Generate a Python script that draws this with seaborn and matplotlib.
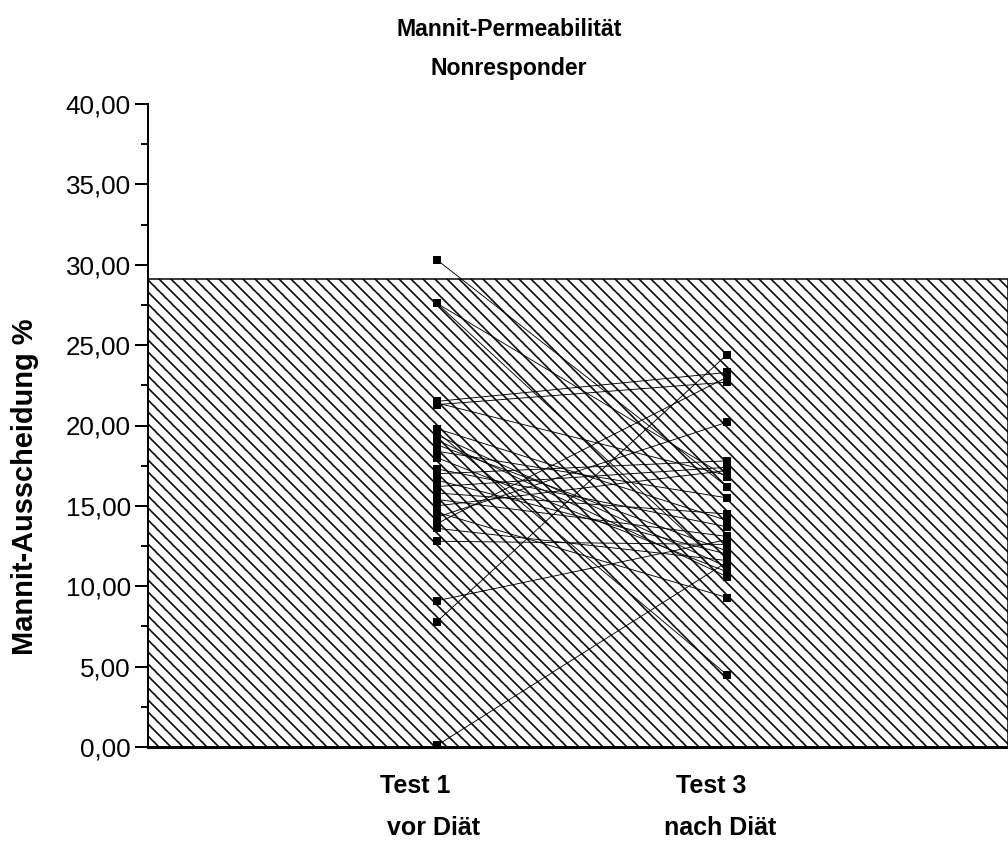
import matplotlib
matplotlib.use("Agg")
import matplotlib.pyplot as plt
import seaborn as sns
import pandas as pd
import numpy as np
from matplotlib.ticker import MultipleLocator, FuncFormatter
import matplotlib.transforms as mtransforms

# ---- data ----
title_lines = ["Mannit-Permeabilität", "Nonresponder"]
y_label = "Mannit-Ausscheidung %"
group_labels = [("Test 1", "vor Diät"), ("Test 3", "nach Diät")]
test1 = [30.3, 27.6, 27.6, 21.5, 21.3, 21.4, 19.8, 19.6, 19.4, 19.1, 18.8, 18.4,
         18.0, 17.3, 17.0, 16.6, 16.2, 15.8, 15.4, 15.0, 14.6, 14.3, 13.9, 13.6,
         12.8, 9.1, 7.8, 0.1]
test3 = [16.2, 16.8, 11.0, 23.3, 22.7, 16.9, 14.1, 4.5, 11.2, 10.6, 12.2, 15.5,
         10.9, 13.7, 17.8, 12.0, 17.4, 14.5, 13.1, 17.2, 9.3, 20.2, 23.0, 11.6,
         12.6, 12.9, 24.4, 11.5]
reference_upper = 29.1  # hatched normal range 0 .. upper

n = len(test1)
df = pd.DataFrame({
    "id": list(range(n)) * 2,
    "pos": [0] * n + [1] * n,
    "value": test1 + test3,
})

sns.set_theme(style="white")
plt.rcParams["font.family"] = ["Liberation Sans", "DejaVu Sans"]
plt.rcParams["hatch.linewidth"] = 1.6
plt.rcParams["hatch.color"] = "black"
plt.rcParams["text.color"] = "black"
plt.rcParams["ytick.color"] = "black"

fig = plt.figure(figsize=(1008 / 72, 843 / 72), dpi=72)
ax = fig.add_axes([148 / 1008, 1 - 747 / 843, 1 - 148 / 1008, (747 - 104) / 843])

ax.axhspan(0, reference_upper, xmin=0, xmax=1, facecolor="white",
           edgecolor="black", hatch="\\\\", linewidth=1.5, zorder=1)

sns.lineplot(data=df, x="pos", y="value", units="id", estimator=None,
             color="black", linewidth=0.9, ax=ax, zorder=3, legend=False)
sns.scatterplot(data=df, x="pos", y="value", marker="s", s=64, color="black",
                edgecolor="black", linewidth=0, ax=ax, zorder=4, legend=False)

ax.set_xlim(-0.997, 1.97)
ax.set_ylim(0, 40)
ax.set_xlabel("")
ax.set_ylabel("")
ax.set_xticks([])

ax.yaxis.set_major_locator(MultipleLocator(5))
ax.yaxis.set_minor_locator(MultipleLocator(2.5))
ax.yaxis.set_major_formatter(FuncFormatter(lambda v, p: f"{v:.2f}".replace(".", ",")))
ax.tick_params(axis="y", which="major", direction="out", length=13, width=2,
               labelsize=26, pad=4, left=True, colors="black")
ax.tick_params(axis="y", which="minor", direction="out", length=7, width=2, left=True)

for s in ["top", "right"]:
    ax.spines[s].set_visible(False)
ax.spines["left"].set_linewidth(2)
ax.spines["left"].set_color("black")
ax.spines["bottom"].set_linewidth(3)
ax.spines["bottom"].set_color("black")
ax.patch.set_alpha(0)

# group labels below axis
trans = mtransforms.blended_transform_factory(ax.transData, fig.transFigure)
offsets = [(-22 / 290, -3 / 290), (-16 / 290, -7 / 290)]
for i, (l1, l2) in enumerate(group_labels):
    ax.text(i + offsets[i][0], 1 - 786 / 843, l1, transform=trans, ha="center",
            va="center", fontsize=25, fontweight="bold", color="black")
    ax.text(i + offsets[i][1], 1 - 828 / 843, l2, transform=trans, ha="center",
            va="center", fontsize=25, fontweight="bold", color="black")

fig.text(509 / 1008, 1 - 30 / 843, title_lines[0], ha="center", va="center",
         fontsize=23, fontweight="bold", color="black")
fig.text(509 / 1008, 1 - 68 / 843, title_lines[1], ha="center", va="center",
         fontsize=23, fontweight="bold", color="black")
fig.text(25 / 1008, 1 - 487 / 843, y_label, rotation=90, ha="center", va="center",
         fontsize=29, fontweight="bold", color="black")

fig.savefig("out.png", dpi=72, facecolor="white")
